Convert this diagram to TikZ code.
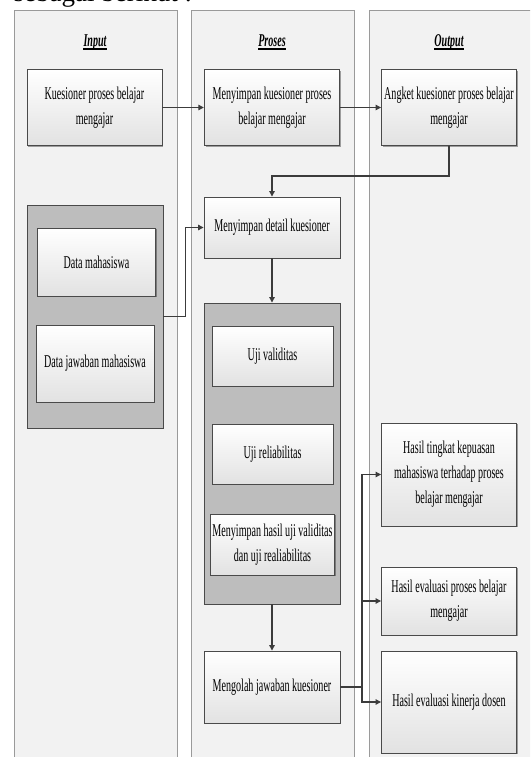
\documentclass[tikz,border=0pt]{standalone}
\usepackage{fontspec}
\setmainfont{Liberation Serif}[FakeStretch=0.56]
\newfontfamily\bodyfont{Liberation Serif}
\usetikzlibrary{shadows,arrows.meta}
\definecolor{lanefill}{HTML}{F2F2F2}
\definecolor{laneline}{HTML}{9A9A9A}
\definecolor{boxline}{HTML}{4A4A4A}
\definecolor{boxbot}{HTML}{E2E2E2}
\definecolor{groupfill}{HTML}{BDBDBD}
\definecolor{conncol}{HTML}{3C3C3C}
\begin{document}
\begin{tikzpicture}[x=1pt,y=-1pt,
  lane/.style={draw=laneline, fill=lanefill, line width=0.7pt, anchor=north west, inner sep=0pt},
  head/.style={anchor=base, inner sep=0pt, font=\fontsize{18}{22}\selectfont\bfseries\itshape},
  headline/.style={line width=1.7pt, draw=black},
  box/.style={draw=boxline, line width=0.9pt, top color=white, bottom color=boxbot,
    align=center, inner sep=2pt, font=\fontsize{18}{25}\selectfont,
    drop shadow={shadow xshift=1.3pt, shadow yshift=-1.3pt, opacity=0.35, fill=black}},
  group/.style={draw=boxline, line width=0.9pt, fill=groupfill, inner sep=0pt,
    drop shadow={shadow xshift=1.3pt, shadow yshift=-1.3pt, opacity=0.35, fill=black}},
  conn/.style={draw=conncol, line width=1.1pt, -{Triangle[length=5.5pt,width=5.5pt]}},
  bus/.style={draw=conncol, line width=1.1pt}
]
\useasboundingbox (0,0) rectangle (530,757);
\clip (0,0) rectangle (530,757);
\fill[white] (0,0) rectangle (530,757);

% intro text (cut off at top)
\node[anchor=base west, inner sep=0pt, font=\bodyfont\fontsize{27}{30}\selectfont] (intro) at (13.5,2) {sebagai berikut :};

% swimlanes
\node[lane, minimum width=163pt, minimum height=800pt] (laneIn) at (13.5,10) {};
\node[lane, minimum width=162.5pt, minimum height=800pt] (lanePr) at (191,10) {};
\node[lane, minimum width=200pt, minimum height=800pt] (laneOut) at (368.5,10) {};

% headings
\node[head] (hIn) at (95,46.5) {Input};
\node[head] (hPr) at (272,46.5) {Proses};
\node[head] (hOut) at (449,46.5) {Output};
\draw[headline] ([yshift=-2.3pt]hIn.base west) -- ([yshift=-2.3pt]hIn.base east);
\draw[headline] ([yshift=-2.3pt]hPr.base west) -- ([yshift=-2.3pt]hPr.base east);
\draw[headline] ([yshift=-2.3pt]hOut.base west) -- ([yshift=-2.3pt]hOut.base east);

% top row
\node[box, minimum width=135pt, minimum height=75.5pt] (k) at (94.5,107.5) {Kuesioner proses belajar\\mengajar};
\node[box, minimum width=135.5pt, minimum height=75.5pt] (m1) at (272,107.5) {Menyimpan kuesioner proses\\belajar mengajar};
\node[box, minimum width=135pt, minimum height=75.5pt] (ang) at (449,107.5) {Angket kuesioner proses belajar\\mengajar};

% proses
\node[box, minimum width=136pt, minimum height=61pt] (det) at (272,227.5) {Menyimpan detail kuesioner};

% input group
\node[group, minimum width=136pt, minimum height=223pt] (gIn) at (95,316.5) {};
\node[box, minimum width=118pt, minimum height=68pt] (dm) at (96.5,262) {Data mahasiswa};
\node[box, minimum width=118pt, minimum height=77pt] (dj) at (95,363.5) {Data jawaban mahasiswa};

% proses group
\node[group, minimum width=136pt, minimum height=301pt] (gPr) at (272,453.5) {};
\node[box, minimum width=121pt, minimum height=60pt] (uv) at (272.5,356) {Uji validitas};
\node[box, minimum width=121pt, minimum height=60pt] (ur) at (272.5,454) {Uji reliabilitas};
\node[box, minimum width=121pt, minimum height=61pt] (mh) at (272.5,544.5) {Menyimpan hasil uji validitas\\dan uji realiabilitas};

\node[box, minimum width=136pt, minimum height=72pt] (mo) at (272,687) {Mengolah jawaban kuesioner};

% outputs
\node[box, minimum width=135pt, minimum height=103pt] (h1) at (449,474.5) {Hasil tingkat kepuasan\\mahasiswa terhadap proses\\belajar mengajar};
\node[box, minimum width=135pt, minimum height=68pt] (h2) at (449,601) {Hasil evaluasi proses belajar\\mengajar};
\node[box, minimum width=135pt, minimum height=102pt] (h3) at (449,702) {Hasil evaluasi kinerja dosen};

% connectors
\draw[conn] (k.east) -- (m1.west);
\draw[conn] (m1.east) -- (ang.west);
\coordinate (t1) at (449,176);
\draw[conn] (ang.south) -- (t1) -| (det.north);
\coordinate (c1) at (185.7,227.5);
\draw[conn] (gIn.east) -| (c1) -- (det.west);
\draw[conn] (det.south) -- (gPr.north);
\draw[conn] (gPr.south) -- (mo.north);
\coordinate (bus) at (362,687);
\draw[bus] (mo.east) -- (bus);
\draw[conn] (bus) |- (h1.west);
\draw[conn] (bus) |- (h2.west);
\draw[conn] (bus) |- (h3.west);
\end{tikzpicture}
\end{document}
